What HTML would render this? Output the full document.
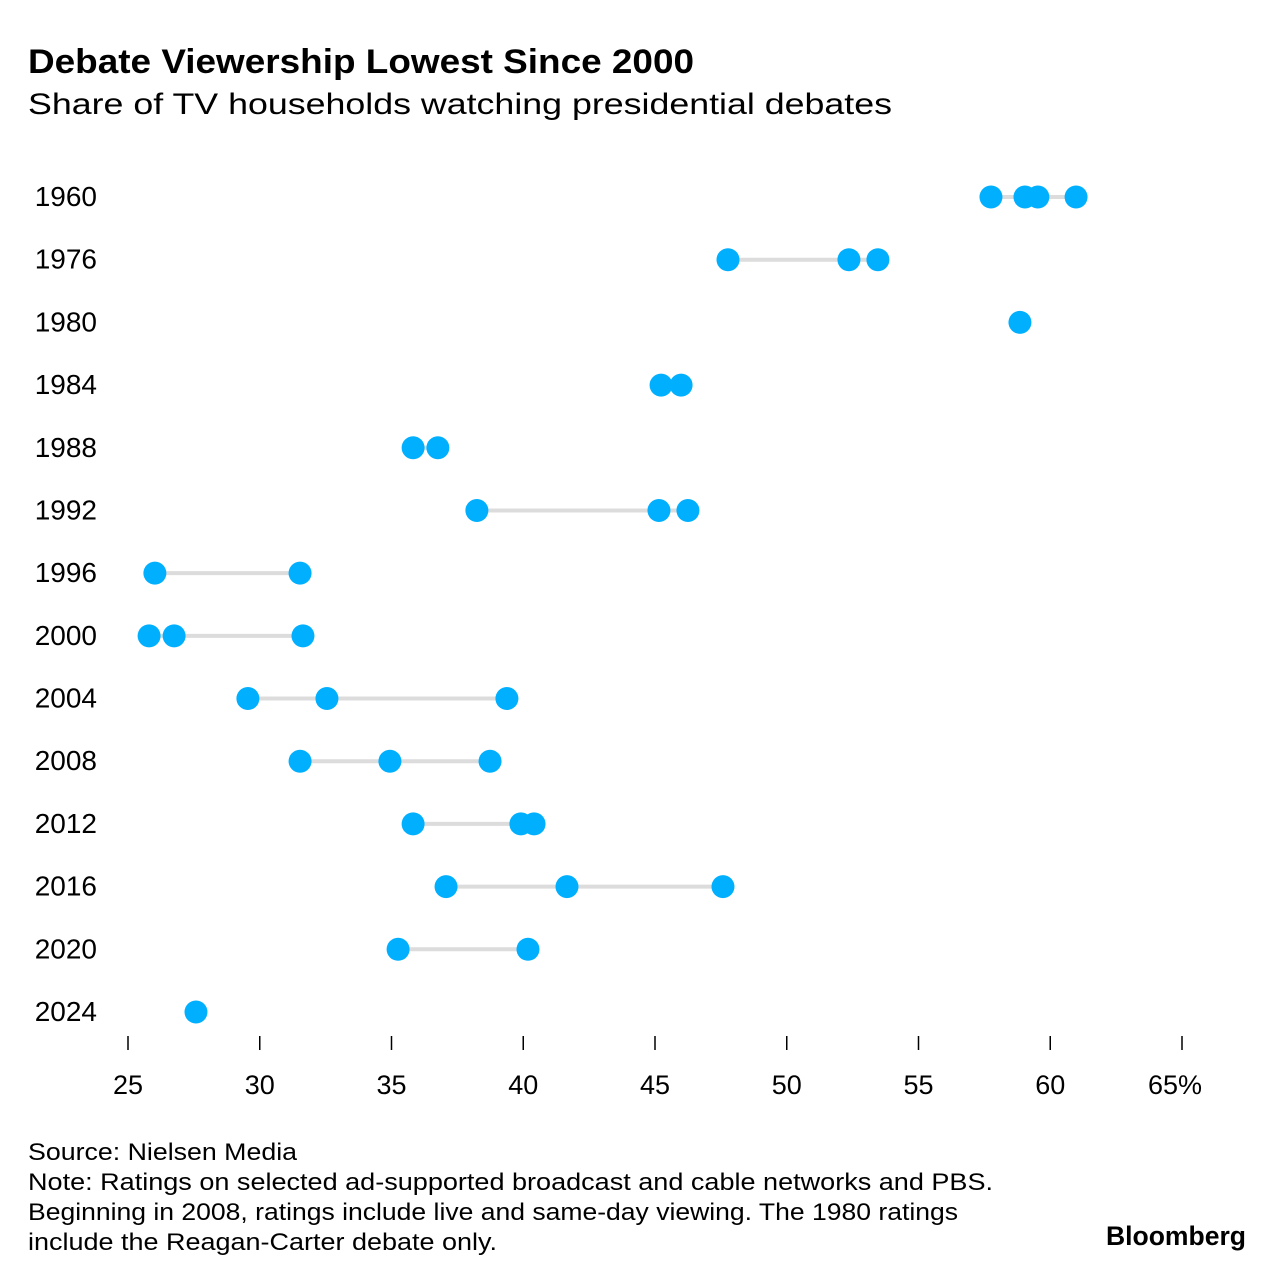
<!DOCTYPE html>
<html><head><meta charset="utf-8"><style>
body{margin:0;background:#fff;font-family:"Liberation Sans",sans-serif;color:#000}
</style></head><body>
<svg width="1285" height="1280" xmlns="http://www.w3.org/2000/svg" font-family="Liberation Sans, sans-serif">
<text x="28" y="73" font-size="34" font-weight="bold" textLength="666" lengthAdjust="spacingAndGlyphs">Debate Viewership Lowest Since 2000</text>
<text x="28" y="114" font-size="30" textLength="864" lengthAdjust="spacingAndGlyphs">Share of TV households watching presidential debates</text>
<g id="plot"></g>
<g font-size="24">
<text x="28" y="1160" textLength="269" lengthAdjust="spacingAndGlyphs">Source: Nielsen Media</text>
<text x="28" y="1190" textLength="965" lengthAdjust="spacingAndGlyphs">Note: Ratings on selected ad-supported broadcast and cable networks and PBS.</text>
<text x="28" y="1220" textLength="930" lengthAdjust="spacingAndGlyphs">Beginning in 2008, ratings include live and same-day viewing. The 1980 ratings</text>
<text x="28" y="1250" textLength="469" lengthAdjust="spacingAndGlyphs">include the Reagan-Carter debate only.</text>
</g>
<text x="1246" y="1245" text-anchor="end" font-size="27" font-weight="bold" textLength="140" lengthAdjust="spacingAndGlyphs">Bloomberg</text>
</svg>
<script>
const years=["1960","1976","1980","1984","1988","1992","1996","2000","2004","2008","2012","2016","2020","2024"];
const values=[[57.75,59.04,59.53,60.98],[47.77,52.36,53.46],[58.85],[45.23,45.99],[35.82,36.76],[38.24,45.15,46.25],[26.02,31.53],[25.8,26.75,31.64],[29.55,32.55,39.38],[31.53,34.94,38.74],[35.82,39.91,40.41],[37.07,41.66,47.58],[35.25,40.18],[27.58]];
const ticks=[25,30,35,40,45,50,55,60,65];
const tickLabels=["25","30","35","40","45","50","55","60","65%"];
const NS="http://www.w3.org/2000/svg";
const g=document.getElementById('plot');
const x=v=>128+(v-25)*(1182-128)/40;
const y=i=>197+i*(1012-197)/13;
function mk(t,a){const e=document.createElementNS(NS,t);for(const k in a)e.setAttribute(k,a[k]);g.appendChild(e);return e;}
years.forEach((yr,i)=>{
  const t=mk('text',{x:97,y:y(i)+9,'text-anchor':'end','font-size':28});t.textContent=yr;
  
  
  const vs=values[i];
  if(vs.length>1){const l=mk('line',{x1:x(Math.min(...vs)),x2:x(Math.max(...vs)),y1:y(i),y2:y(i),stroke:'#dcdcdc','stroke-width':4});
  
  }
  vs.forEach((v,j)=>{const c=mk('circle',{cx:x(v),cy:y(i),r:11.5,fill:'#00b0ff'});
  
  });
});
ticks.forEach((t,k)=>{
  const l=mk('line',{x1:x(t),x2:x(t),y1:1036,y2:1050,stroke:'#000','stroke-width':1.5});
  
  
  const tx=mk('text',{x:x(t)+(k==8?-34:0),y:1094,'text-anchor':k==8?'start':'middle','font-size':27});tx.textContent=tickLabels[k];
  
  
});
</script>
</body></html>
